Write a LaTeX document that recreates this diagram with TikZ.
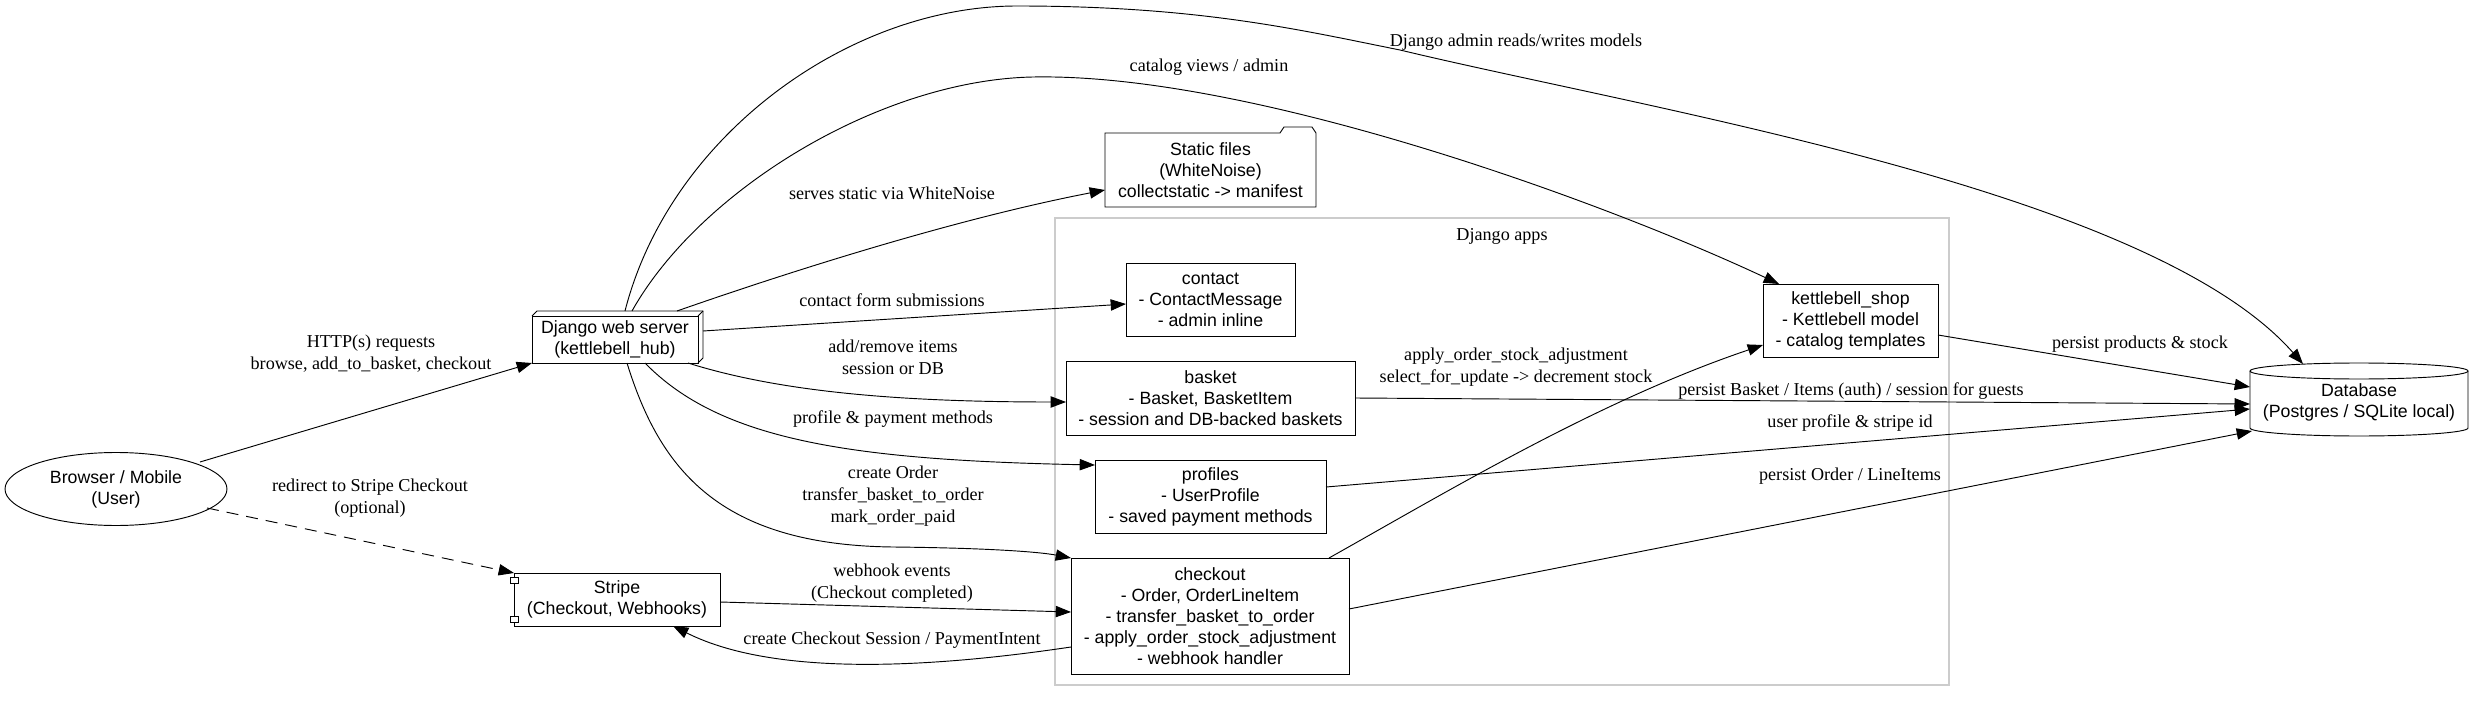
\documentclass[tikz,border=0pt]{standalone}
\usepackage{fontspec}
\setmainfont{Liberation Serif}
\setsansfont{Liberation Sans}
\usetikzlibrary{arrows.meta,calc,shapes.geometric}
\definecolor{clgray}{RGB}{204,204,204}
\begin{document}
\begin{tikzpicture}[x=0.75pt,y=-0.75pt,
  line width=0.7pt,
  >={Triangle[length=11.5pt,width=8.5pt]},
  box/.style={draw, rectangle, inner sep=0pt, outer sep=0pt, align=center, font=\sffamily\fontsize{13.3}{15.75}\selectfont},
  lbl/.style={inner sep=0pt, align=center, font=\fontsize{13.6}{16.5}\selectfont},
  conn/.style={->, line width=0.7pt}]
\fill[white] (0,0) rectangle (2473,702);
\useasboundingbox (0,0) rectangle (2473,702);

% cluster
\node[draw=clgray, line width=0.8pt, rectangle, inner sep=0pt, outer sep=0pt, minimum width=670.5pt, minimum height=350.25pt] (apps) at (1502,451.5) {};
\node[lbl] (appslbl) at (1502,236) {Django apps};

% nodes
\node[box, ellipse, minimum width=166.5pt, minimum height=54.75pt] (browser) at (116,489) {Browser / Mobile\\(User)};
\node[box, minimum width=124.5pt, minimum height=35.25pt] (django) at (615,339.5) {Django web server\\(kettlebell\_hub)};
\node[box, draw=none, minimum width=158.25pt, minimum height=55.5pt] (static) at (1210.5,170) {Static files\\(WhiteNoise)\\collectstatic -> manifest};
\node[box, minimum width=126.75pt, minimum height=54.75pt] (contact) at (1210.5,299.5) {contact\\- ContactMessage\\- admin inline};
\node[box, minimum width=216.75pt, minimum height=55.5pt] (basket) at (1210.5,398) {basket\\- Basket, BasketItem\\- session and DB-backed baskets};
\node[box, minimum width=173.25pt, minimum height=54.75pt] (profiles) at (1210.5,496.5) {profiles\\- UserProfile\\- saved payment methods};
\node[box, minimum width=208.5pt, minimum height=87pt] (checkout) at (1210,616) {checkout\\- Order, OrderLineItem\\- transfer\_basket\_to\_order\\- apply\_order\_stock\_adjustment\\- webhook handler};
\node[box, minimum width=131.25pt, minimum height=54.75pt] (kettle) at (1850.5,320.5) {kettlebell\_shop\\- Kettlebell model\\- catalog templates};
\node[box, minimum width=154.5pt, minimum height=39.75pt] (stripe) at (617,599.5) {Stripe\\(Checkout, Webhooks)};
\node[box, draw=none, minimum width=163.5pt, minimum height=54.75pt] (db) at (2359,402) {Database\\(Postgres / SQLite local)};

% box3d extras
\draw (django.north west) -- ++(5,-5) -- ($(django.north east)+(5,-5)$) -- ($(django.south east)+(5,-5)$) -- (django.south east);
\draw (django.north east) -- ++(5,-5);

% folder
\draw (static.south west) -- (static.north west) -- ($(static.north east)+(-36,0)$) -- ($(static.north east)+(-32,-6)$) -- ($(static.north east)+(-4,-6)$) -- (static.north east) -- (static.south east) -- cycle;

% component
\filldraw[fill=white] ($(stripe.north west)+(-4,4)$) rectangle ($(stripe.north west)+(4,10)$);
\filldraw[fill=white] ($(stripe.south west)+(-4,-10)$) rectangle ($(stripe.south west)+(4,-4)$);

% cylinder
\draw (2250,371) -- (2250,428) arc[start angle=180, end angle=0, x radius=109, y radius=8] -- (2468,371) arc[start angle=0, end angle=-180, x radius=109, y radius=8] -- cycle;
\draw (2250,371) arc[start angle=180, end angle=0, x radius=109, y radius=8];

% edges
\draw[conn] ($(browser)+(84,-27)$) -- (django.south west);
\node[lbl] (l1) at (371,354) {HTTP(s) requests\\browse, add\_to\_basket, checkout};

\draw[conn, dash pattern=on 9pt off 6pt] ($(browser)+(91,19)$) -- (stripe.north west);
\node[lbl] (l2) at (370,498) {redirect to Stripe Checkout\\(optional)};

\draw[conn] ($(django)+(62,-28.5)$) .. controls (780,275) and (950,220) .. ($(static.west)+(0,20)$);
\node[lbl] (l3) at (892,193) {serves static via WhiteNoise};

\draw[conn] ($(django)+(88,-8.5)$) -- ($(contact.west)+(0,4.5)$);
\node[lbl] (l4) at (892,300) {contact form submissions};

\draw[conn] ($(django.south east)+(-10,0)$) .. controls (780,392) and (900,402) .. ($(basket.west)+(0,4)$);
\node[lbl] (l5) at (893,357) {add/remove items\\session or DB};

\draw[conn] ($(django)+(30,23.5)$) .. controls (720,440) and (850,460) .. ($(profiles.north west)+(0,5)$);
\node[lbl] (l6) at (893,419) {profile \& payment methods};

\draw[conn] ($(django)+(12,23.5)$) .. controls (660,470) and (720,545) .. (893,547) .. controls (990,548) and (1040,552) .. (checkout.north west);
\node[lbl] (l7) at (893,496) {create Order\\transfer\_basket\_to\_order\\mark\_order\_paid};

\draw[conn] ($(django)+(17,-28.5)$) .. controls (700,190) and (880,80) .. (1033,77) .. controls (1250,73) and (1600,200) .. ($(kettle.north west)+(16,0)$);
\node[lbl] (l8) at (1209,67) {catalog views / admin};

\draw[conn] ($(django)+(10,-28.5)$) .. controls (670,135) and (850,6) .. (1017,6) .. controls (1200,6) and (1300,30) .. (1400,50) .. controls (1650,110) and (2150,190) .. (2303,364);
\node[lbl] (l9) at (1516,42) {Django admin reads/writes models};

\draw[conn] ($(stripe.east)+(0,2.5)$) -- ($(checkout.west)+(0,-4)$);
\node[lbl] (l10) at (892,583) {webhook events\\(Checkout completed)};

\draw[conn] ($(checkout.west)+(0,31)$) .. controls (950,665) and (780,680) .. ($(stripe.south)+(56,0)$);
\node[lbl] (l11) at (892,640) {create Checkout Session / PaymentIntent};

\draw[conn] ($(checkout.north east)+(-20,0)$) .. controls (1450,490) and (1600,400) .. ($(kettle.west)+(0,24.5)$);
\node[lbl] (l12) at (1516,367) {apply\_order\_stock\_adjustment\\select\_for\_update -> decrement stock};

\draw[conn] ($(kettle.east)+(0,14.5)$) -- (2250,387);
\node[lbl] (l13) at (2140,344) {persist products \& stock};

\draw[conn] (basket.east) -- (2250,404);
\node[lbl] (l14) at (1851,391) {persist Basket / Items (auth) / session for guests};

\draw[conn] ($(profiles.east)+(0,-9.5)$) -- (2250,409);
\node[lbl] (l15) at (1850,423) {user profile \& stripe id};

\draw[conn] ($(checkout.east)+(0,-7)$) -- (2252,431);
\node[lbl] (l16) at (1850,476) {persist Order / LineItems};
\end{tikzpicture}
\end{document}
